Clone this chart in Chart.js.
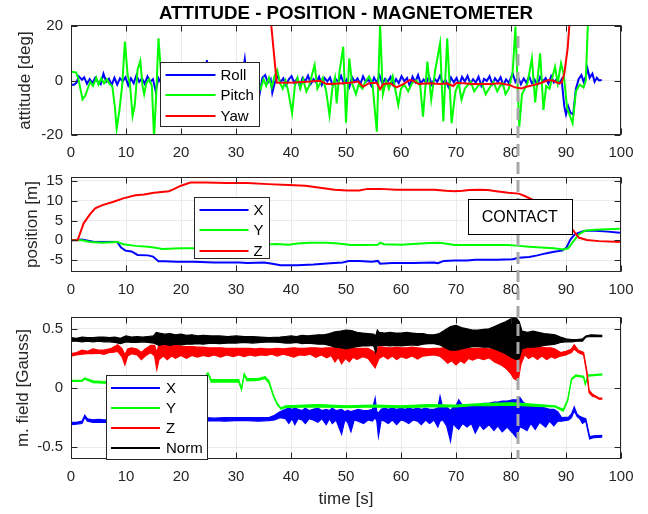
<!DOCTYPE html>
<html>
<head>
<meta charset="utf-8">
<script src="https://cdn.jsdelivr.net/npm/chart.js@4.4.1/dist/chart.umd.min.js"></script>
<style>
  html, body { margin: 0; padding: 0; background: #ffffff; }
  #wrap { position: relative; width: 648px; height: 514px; overflow: hidden; }
  #wrap canvas { position: absolute; left: 0; }
</style>
</head>
<body>
<div id="wrap">
  <canvas id="cAtt" width="648" height="160" style="top:0px"></canvas>
  <canvas id="cPos" width="648" height="140" style="top:160px"></canvas>
  <canvas id="cMag" width="648" height="214" style="top:300px"></canvas>
</div>
<script>
// ---------- tick labels ----------
const timeTicks     = [0, 10, 20, 30, 40, 50, 60, 70, 80, 90, 100];
const attitudeTicks = [-20, 0, 20];
const positionTicks = [-5, 0, 5, 10, 15];
const fieldTicks    = [-0.5, 0, 0.5];

// ---------- contact event ----------
const contactTime = 81.2;
const contactText = 'CONTACT';

// ---------- attitude [deg] ----------
const rollT = [0,0.5,1,1.4,2,2.4,2.9,3.4,3.9,4.4,4.9,5.4,5.9,6.4,6.9,7.4,7.9,8.4,8.9,9.4,9.9,10.4,10.9,11.4,11.9,12.4,12.9,13.4,13.9,14.4,14.9,15.4,15.9,16.4,16.9,17.4,17.9,18.4,18.9,19.4,19.9,20.4,20.9,21.4,21.9,22.4,22.9,23.4,23.9,24.4,24.7,25.1,25.6,26.1,26.6,27.1,27.6,28.1,28.6,29.1,29.6,30.1,30.6,31.1,31.6,32.0,32.5,33.0,33.5,34.2,34.8,35.3,35.8,36.3,36.6,37.1,37.6,38.1,38.6,39.1,39.6,40.1,40.6,41.1,41.6,42.1,42.6,43.1,43.6,44.1,44.6,45.1,45.6,46.1,46.6,47.1,47.6,48.1,48.6,49.1,49.6,50.1,50.6,51.1,51.6,52.1,52.6,53.1,53.6,54.1,54.6,55.1,55.6,56.1,56.6,57.1,57.6,58.1,58.6,59.1,59.6,60.1,60.6,61.1,61.6,62.1,62.6,63.1,63.6,64.1,64.6,65.1,65.6,66.1,66.6,67.1,67.6,68.1,68.6,69.1,69.6,70.1,70.6,71.1,71.6,72.1,72.6,73.1,73.6,74.1,74.6,75.1,75.6,76.1,76.6,77.1,77.6,78.1,78.6,79.1,79.6,80.3,80.8,81.3,81.8,82.3,82.8,83.3,83.8,84.3,84.8,85.3,85.8,86.3,86.8,87.3,87.8,88.3,88.8,89.2,89.7,90.0,90.4,90.8,91.3,91.8,92.3,92.8,93.2,93.6,93.9,94.3,94.8,95.2,95.6,96.0,96.5];
const rollV = [-1.5,-1.6,-0.8,1.5,0.3,1.2,-1.2,0.5,-1.0,1.0,-0.6,-1.4,2.5,-0.5,0.6,-1.6,1.0,-1.5,0.8,-0.3,1.2,-1.8,0.8,-1.0,2.0,-0.5,0.8,-1.2,1.5,-0.5,0.5,-4.0,0.8,-1.0,0.6,-1.2,1.0,-0.4,1.3,-1.5,0.5,-0.8,1.1,-1.3,0.4,-0.9,1.5,-0.5,0.9,-1.0,7.5,0.5,-1.2,1.0,-0.6,1.4,-1.1,0.3,-0.8,1.2,-1.4,0.6,-0.5,1.0,7.8,0.2,-1.3,1.1,-0.7,-5.9,1.0,2.0,-0.8,0.5,-4.5,-0.5,1.5,-0.6,0.8,-1.8,0.4,1.6,-0.9,0.7,-2.2,1.0,-0.3,1.8,-1.2,0.5,-0.8,1.4,-1.6,0.9,-0.4,1.1,-2.0,0.6,-0.7,1.7,-1.1,0.3,-2.4,1.2,-0.5,0.8,-1.4,1.5,-0.6,0.4,-1.9,1.0,-0.8,1.9,-1.3,0.6,-0.4,1.3,-1.7,0.5,-1.0,1.6,-0.3,0.9,-2.1,1.4,-0.6,2.0,-1.2,0.4,-0.9,1.5,-1.5,0.7,-0.5,1.8,-1.0,0.2,-2.3,1.1,-0.7,0.9,-1.6,1.3,-0.4,1.7,-1.1,0.5,-0.8,1.4,-1.9,0.6,-0.2,1.6,-1.3,0.8,-0.6,1.2,-1.8,0.4,-0.9,2.6,-0.5,1.2,-1.4,0.7,-0.8,1.5,-1.1,0.3,-1.6,1.3,-0.4,0.9,-1.2,1.6,-0.7,0.5,-1.0,0.4,-9.6,-12.5,-9.5,-11.8,-12.5,-3.0,0.5,2.0,-0.5,1.5,4.4,1.0,2.5,-0.5,1.0,0.0,0.2];

const pitchT = [0,0.9,1.3,2.1,2.6,3.0,3.5,4.0,4.6,5.0,5.5,6.0,6.5,7.0,7.5,8.0,8.3,8.8,9.3,9.8,10.3,10.7,11.2,11.6,12.1,12.6,13.0,13.3,13.7,14.2,14.7,15.1,15.5,15.9,16.4,16.9,17.5,18.2,19.0,19.8,20.6,21.4,22.2,23.0,24.0,25.0,26.0,27.0,28.0,29.0,30.0,31.0,32.0,33.0,34.0,34.5,35.0,35.5,36.0,36.5,37.0,37.5,38.0,38.5,39.0,39.5,40.2,40.7,41.2,41.7,42.2,42.8,43.3,43.8,44.3,44.8,45.3,45.8,46.4,47.0,47.5,48.0,48.3,48.8,49.5,50.0,50.6,51.1,51.8,52.3,53.0,53.5,54.2,54.8,55.6,56.2,56.7,57.3,57.8,58.5,59.5,60.0,60.6,61.3,62.0,62.8,63.5,64.0,64.8,65.5,66.2,67.1,67.7,68.4,69.2,69.9,70.5,71.0,71.6,72.0,72.7,73.3,74.0,74.7,75.4,76.0,76.8,77.5,78.0,78.5,79.0,79.6,80.3,80.8,81.5,82.0,82.5,83.0,83.8,84.4,85.3,85.9,86.4,87.0,87.5,88.0,88.5,89.1,89.6,90.2,91.2,91.8,92.5,93.2,93.6,94.0,94.3,96.5];
const pitchV = [3.2,3.0,1.0,-6.9,-5.5,-3.2,-0.5,-2.0,1.0,-1.5,0.8,-1.0,0.5,-1.2,-2.0,-10,-17.8,-11,-2,14.3,2,-1,-13,-9,4,7.2,-2,-5,-1,0.5,-2,-21,-5,15.5,2,-1,0.5,-1.5,1.0,-2.0,0.5,-3.0,1.0,-1.0,2.0,-2.0,0.0,-3.0,1.0,-1.0,2.0,-2.0,0.0,-3.0,-1.0,-3.0,0.5,-2.0,1.0,-2.5,1.5,3.8,-1.0,-3.0,0.0,-4.0,-12.0,-2.0,1.0,-3.0,0.5,-4.0,-2.0,2.0,5.7,-3.0,-1.0,1.0,-4.0,-12.7,-3.0,1.0,-8.4,3.0,12.4,-15.5,8.1,-1.0,-5.0,-1.5,-3.0,-0.5,1.5,-1.0,-18.8,20.5,-5.0,0.0,-3.0,1.5,-9.0,-3.0,-1.5,-4.0,-1.0,0.0,-2.0,-13.3,6.9,-7.0,3.5,13.6,-15.0,15.5,-15.7,-4.0,-1.0,-7.0,-3.0,-2.0,-0.5,-4.0,-2.0,-1.0,-5.0,-3.0,-0.5,-4.0,-2.0,-1.0,-5.0,-3.0,3.0,19.8,-17.0,-5.0,-3.0,-1.0,8.1,-8.0,10.0,-10.8,-2.0,-3.0,1.0,5.0,-1.0,6.3,2.0,-10.0,-15.7,-4.0,-1.5,-2.5,0.0,22.0,45.0,45.0];

const yawT = [0,36.0,37.4,40.4,43.5,45.3,46.5,47.1,49.5,50.7,52.2,53.1,54.2,55.6,56.2,56.8,58.0,59.2,60.4,61.6,62.2,63.2,65.3,67.1,68.3,69.5,70.1,73.1,76.2,78.0,79.8,80.7,81.9,82.8,84.1,85.3,86.8,87.7,88.6,89.2,89.7,90.3,90.6,91.0,96.5];
const yawV = [29,29,-0.8,-0.7,-0.4,-0.1,-1.3,-1.3,-1.0,-0.8,-0.4,-2.3,-1.0,-0.8,-3.2,-1.3,-1.0,-2.5,-1.3,0.2,-0.1,-1.3,-1.0,-1.3,-1.0,-2.0,-0.8,-1.3,-1.3,-1.0,-1.7,-2.5,-2.9,-2.3,-1.7,-1.0,0.2,-0.1,-1.0,-0.8,2.6,11.8,20.0,30.0,35.0];

// ---------- position [m] ----------
const posXT = [0,2,4.2,6.5,8.4,9.1,9.9,11,12.1,14,14.9,15.9,17,19.3,22.3,26,30.6,32.1,35.1,36.6,38.1,41.1,44.1,47.1,49.4,50.5,52.4,54.7,55.8,56.2,58.4,62.2,66,66.7,67.8,69.7,72,73.5,77.3,80.3,81.4,83.3,84.8,86.3,87.8,89.3,90.1,90.8,91.6,93.1,93.8,95.3,97.6,99.8];
const posXV = [0,0.2,-0.4,-0.4,-0.4,-1.8,-2.6,-2.8,-3.7,-3.8,-4.1,-5.3,-5.3,-5.4,-5.4,-5.6,-5.6,-5.7,-5.6,-5.9,-6.3,-6.3,-6.1,-5.8,-5.6,-5.2,-5.2,-5.4,-5.2,-5.9,-5.7,-5.7,-5.6,-5.8,-5.2,-5.1,-5.1,-4.9,-4.9,-4.8,-4.4,-4.2,-3.8,-3.3,-2.9,-2.6,-1.8,0.2,1.5,2.3,2.4,2.4,2.2,1.9];

const posYT = [0,2,3.5,5.7,8.4,9.5,11.7,14,15.1,16.6,20,23,26,29.1,32.1,35.1,37.3,39.6,41.1,43.4,46.4,48.6,50.9,53.2,55.8,56.2,56.9,60,62.2,65.2,67.1,68.6,69.7,73.5,77.3,79.5,81.4,83.3,85.5,87.8,89.5,90.4,91.2,92.3,93.4,95.3,99.8];
const posYV = [0.1,0,-0.4,-0.6,-0.4,-1.0,-1.4,-1.6,-1.8,-2.2,-2.0,-2.0,-1.9,-1.7,-1.4,-1.1,-0.9,-1.1,-0.8,-0.6,-0.6,-0.8,-1.2,-1.2,-1.1,-0.6,-1.0,-1.1,-0.9,-0.7,-0.6,-0.9,-1.2,-1.2,-1.2,-1.2,-1.4,-1.6,-1.8,-2.0,-2.3,-2.0,-0.5,1.5,2.4,2.7,2.9];

const posZT = [0,1.2,2.3,3.5,4.4,5.7,7.6,9.5,11.7,13.3,15.1,17.8,18.5,20,21.7,24.5,28.3,32.1,35.8,39.6,42.6,45.6,47.9,50.2,52.4,53.9,56.2,59.2,62.2,66,68.2,69.7,71.2,72.4,74.2,75.8,77.3,79.5,81.4,82.5,84,84.8,86,87.5,89,90.5,91.2,92.3,93.8,96,99.8];
const posZV = [0,0,4.3,6.7,8.1,8.9,9.7,10.6,11.4,11.6,12.0,12.4,12.8,13.8,14.6,14.6,14.5,14.5,14.2,14.0,13.8,13.2,12.8,12.6,12.6,13.0,13.0,12.8,12.8,12.8,12.5,12.4,12.5,12.7,12.8,12.7,12.4,12.0,11.8,11.2,10.2,10.0,8.5,7.0,5.0,3.3,2.7,0.7,0.1,-0.2,-0.4];

// ---------- magnetic field [Gauss], upper / lower envelopes ----------
const normT  = [0,1,2,3,4,5,6,7,8,9,10,11,12,13,14,15,15.5,16,17,18,19,20,21,22,23,24,25.5,27,28.5,30,31.5,33,34.5,36,38,39,40,41,42,43,44,45,46,47,48,49,50,51,52,53,54,55,55.4,55.7,56,57,58,59,60,61,62,63,64,65,66,67,68,69,70,71,72,73,74,75,76,77,78,79,80,81,81.5,82,83,84,85,86,87,88,89,90,91,92,93,93.6,94.5,96.6];
const normHi = [0.425,0.42,0.43,0.425,0.425,0.43,0.43,0.425,0.43,0.42,0.44,0.43,0.435,0.43,0.435,0.44,0.47,0.465,0.455,0.46,0.45,0.455,0.445,0.45,0.44,0.445,0.44,0.44,0.435,0.44,0.435,0.435,0.43,0.425,0.43,0.435,0.44,0.435,0.445,0.44,0.445,0.45,0.45,0.46,0.475,0.48,0.49,0.485,0.47,0.465,0.46,0.455,0.44,0.49,0.47,0.465,0.47,0.465,0.465,0.47,0.465,0.46,0.46,0.45,0.45,0.46,0.49,0.52,0.53,0.51,0.5,0.49,0.49,0.495,0.5,0.52,0.54,0.56,0.585,0.59,0.56,0.48,0.47,0.48,0.47,0.46,0.455,0.45,0.43,0.415,0.41,0.41,0.415,0.44,0.45,0.445];
const normLo = [0.395,0.395,0.39,0.395,0.39,0.395,0.39,0.39,0.385,0.375,0.39,0.385,0.385,0.39,0.385,0.38,0.37,0.36,0.37,0.36,0.37,0.365,0.37,0.37,0.375,0.37,0.38,0.375,0.38,0.38,0.385,0.38,0.385,0.39,0.385,0.38,0.38,0.385,0.375,0.38,0.375,0.37,0.37,0.36,0.345,0.34,0.33,0.34,0.35,0.355,0.355,0.36,0.3,0.36,0.36,0.36,0.355,0.36,0.355,0.36,0.365,0.36,0.37,0.375,0.375,0.365,0.34,0.32,0.32,0.33,0.34,0.35,0.35,0.345,0.345,0.33,0.31,0.29,0.26,0.24,0.25,0.33,0.345,0.345,0.35,0.36,0.365,0.37,0.385,0.39,0.39,0.395,0.395,0.43,0.435,0.435];

const magZT  = [0,1,2,3,4,5,6,7,7.5,8.5,9.3,9.8,10.3,11,12,12.8,13.5,14.5,15.2,15.6,16,16.8,17.5,18.3,19,20,21,22,23,24,25,26,27.2,28.3,29.5,30.5,31.5,32.5,33.5,34.5,35.5,36.5,37.5,38.5,39.5,40.5,41.5,42.5,43.5,44.5,45.5,46.5,47.3,48,48.6,49.2,49.9,50.6,51.3,52,53,54,55.3,56,56.8,57.6,58.4,59.2,60,61,62,63,64,65,66,67,67.8,68.5,69.2,70,70.8,71.5,72.3,73,74,75,76,77,78,79,80,80.5,81.3,81.8,82.5,83.2,84,84.8,85.6,86.5,87.3,88,89,90,91,91.5,92.2,93.2,93.8,94.2,94.8,95.5,96,96.6];
const magZHi = [0.29,0.3,0.32,0.31,0.33,0.32,0.32,0.33,0.34,0.365,0.33,0.28,0.33,0.34,0.33,0.3,0.33,0.36,0.36,0.3,0.37,0.36,0.365,0.36,0.36,0.355,0.35,0.35,0.345,0.345,0.34,0.34,0.34,0.335,0.335,0.335,0.335,0.335,0.33,0.335,0.33,0.33,0.335,0.33,0.335,0.34,0.335,0.335,0.34,0.34,0.335,0.34,0.34,0.34,0.345,0.345,0.34,0.34,0.335,0.335,0.335,0.335,0.3,0.35,0.345,0.34,0.34,0.345,0.34,0.34,0.345,0.34,0.335,0.33,0.335,0.335,0.34,0.34,0.345,0.34,0.34,0.34,0.335,0.335,0.335,0.335,0.33,0.33,0.325,0.32,0.3,0.28,0.27,0.33,0.37,0.36,0.35,0.35,0.345,0.34,0.34,0.33,0.3,0.31,0.33,0.365,0.32,0.3,0.14,-0.02,-0.05,-0.07,-0.085,-0.085];
const magZLo = [0.27,0.28,0.285,0.29,0.29,0.295,0.285,0.3,0.3,0.31,0.26,0.195,0.27,0.29,0.28,0.24,0.27,0.3,0.27,0.155,0.24,0.27,0.24,0.27,0.25,0.275,0.25,0.275,0.26,0.275,0.265,0.28,0.26,0.28,0.265,0.28,0.265,0.28,0.27,0.28,0.275,0.285,0.27,0.285,0.275,0.26,0.28,0.275,0.285,0.26,0.28,0.255,0.275,0.22,0.26,0.205,0.25,0.22,0.26,0.24,0.265,0.25,0.17,0.25,0.27,0.245,0.27,0.24,0.265,0.25,0.27,0.245,0.27,0.275,0.28,0.27,0.24,0.21,0.23,0.195,0.23,0.21,0.25,0.235,0.255,0.24,0.255,0.22,0.2,0.17,0.12,0.08,0.06,0.2,0.28,0.25,0.27,0.24,0.27,0.24,0.265,0.25,0.27,0.28,0.3,0.33,0.3,0.28,0.12,-0.04,-0.07,-0.08,-0.095,-0.095];

const magYT  = [0,2,2.5,4,6,10,15,20,24,24.9,25.5,28,30.5,31,31.5,32,34,35.3,36,36.8,37.5,38.2,39,45,50,55,60,65,70,73,76,80,82,85,88,89.5,90.3,91,91.8,93.2,93.5,94,96.6];
const magYHi = [0.065,0.065,0.085,0.06,0.055,0.06,0.06,0.06,0.07,0.13,0.07,0.07,0.07,-0.005,0.12,0.08,0.08,0.095,0.06,-0.06,-0.13,-0.17,-0.15,-0.14,-0.15,-0.145,-0.15,-0.14,-0.145,-0.135,-0.13,-0.125,-0.13,-0.14,-0.15,-0.18,-0.1,0.08,0.11,0.1,0.04,0.11,0.12];
const magYLo = [0.055,0.055,0.075,0.045,0.04,0.045,0.045,0.045,0.05,0.12,0.05,0.05,0.05,-0.015,0.11,0.06,0.065,0.08,0.04,-0.07,-0.14,-0.18,-0.165,-0.16,-0.165,-0.16,-0.165,-0.16,-0.16,-0.15,-0.15,-0.145,-0.15,-0.155,-0.16,-0.195,-0.11,0.07,0.1,0.09,0.03,0.1,0.11];

const magXT  = [0,1,2,2.5,3,4,5,6,24.5,26,28,30,32,34,36,37,38,39,39.6,40.2,40.7,41.3,42,42.6,43.3,44,44.9,45.6,46.4,47,47.5,48.2,49.2,49.8,50.3,50.9,51.5,52.2,53.2,54,54.8,55.3,55.6,55.9,56.4,57,57.7,58.4,59.2,60,60.7,61.4,62.2,63,63.7,64.5,65.2,66,66.7,67.1,67.6,68.3,69,69.5,70,70.5,71.2,72,72.8,73.5,74.3,75,76,76.9,77.6,78.4,79.3,80.3,81,81.6,82.2,82.9,83.6,84.4,85.2,86.3,87,87.8,88.5,89.2,90.5,91,91.5,92,92.5,93,93.6,94.3,95,96.6];
const magXHi = [-0.29,-0.29,-0.28,-0.23,-0.26,-0.27,-0.265,-0.27,-0.25,-0.255,-0.25,-0.25,-0.25,-0.25,-0.25,-0.23,-0.2,-0.18,-0.17,-0.18,-0.17,-0.18,-0.19,-0.17,-0.19,-0.18,-0.17,-0.19,-0.18,-0.19,-0.17,-0.19,-0.18,-0.2,-0.19,-0.2,-0.19,-0.18,-0.19,-0.19,-0.18,-0.086,-0.2,-0.21,-0.18,-0.17,-0.18,-0.17,-0.18,-0.17,-0.18,-0.17,-0.18,-0.17,-0.18,-0.17,-0.18,-0.18,-0.17,-0.07,-0.17,-0.16,-0.19,-0.16,-0.15,-0.1,-0.15,-0.15,-0.14,-0.14,-0.14,-0.13,-0.13,-0.12,-0.12,-0.11,-0.11,-0.1,-0.1,-0.08,-0.12,-0.14,-0.15,-0.16,-0.16,-0.17,-0.18,-0.18,-0.2,-0.25,-0.245,-0.22,-0.16,-0.22,-0.24,-0.25,-0.26,-0.41,-0.405,-0.4];
const magXLo = [-0.31,-0.305,-0.3,-0.25,-0.28,-0.29,-0.29,-0.29,-0.28,-0.275,-0.28,-0.275,-0.275,-0.28,-0.275,-0.27,-0.25,-0.26,-0.3,-0.26,-0.31,-0.26,-0.27,-0.3,-0.26,-0.27,-0.29,-0.26,-0.31,-0.26,-0.3,-0.27,-0.39,-0.27,-0.29,-0.37,-0.27,-0.28,-0.3,-0.27,-0.28,-0.25,-0.28,-0.41,-0.27,-0.28,-0.3,-0.27,-0.31,-0.27,-0.28,-0.3,-0.27,-0.28,-0.31,-0.27,-0.3,-0.27,-0.33,-0.28,-0.27,-0.32,-0.45,-0.3,-0.33,-0.35,-0.3,-0.33,-0.3,-0.38,-0.31,-0.35,-0.31,-0.36,-0.32,-0.37,-0.33,-0.38,-0.42,-0.33,-0.34,-0.36,-0.3,-0.35,-0.29,-0.33,-0.28,-0.32,-0.28,-0.28,-0.27,-0.25,-0.19,-0.24,-0.26,-0.3,-0.28,-0.43,-0.42,-0.415];

// ---------- styling ----------
const FONT  = "'Liberation Sans', Arial, Helvetica, sans-serif";
const INK   = '#262626';
const GRID  = '#ebebeb';
const BLUE  = '#0000ff';
const GREEN = '#00ff00';
const RED   = '#ff0000';
const BLACK = '#000000';

Chart.defaults.font.family = FONT;
Chart.defaults.color = INK;

function pts(t, v) { return t.map((x, i) => ({ x: x, y: v[i] })); }

function trace(label, t, v, color, order) {
  return { label, inKey: true, data: pts(t, v), borderColor: color, backgroundColor: color,
           borderWidth: 2, pointRadius: 0, tension: 0, fill: false, order };
}

// A noisy signal shown as the band between its upper and lower envelope
function addBand(list, label, t, hi, lo, color, order) {
  const loIndex = list.length + 1;
  list.push({ label, inKey: true, data: pts(t, hi), borderColor: color, backgroundColor: color,
              borderWidth: 1.2, pointRadius: 0, tension: 0, fill: loIndex, order });
  list.push({ label: label + ' low', inKey: false, data: pts(t, lo), borderColor: color,
              backgroundColor: color, borderWidth: 1.2, pointRadius: 0, tension: 0, fill: false, order });
}

// Box, inward ticks, contact marker, note and key drawn over the data
const decor = {
  id: 'decor',
  afterDatasetsDraw(chart, args, o) {
    const ctx = chart.ctx, a = chart.chartArea;
    const xs = chart.scales.x, ys = chart.scales.y;
    const L = Math.floor(a.left) + 0.5, R = Math.floor(a.right) - 0.5;
    const T = Math.floor(a.top) + 0.5, B = Math.floor(a.bottom) - 0.5;
    ctx.save();

    // axes box with ticks pointing inward on all four sides
    ctx.strokeStyle = INK;
    ctx.lineWidth = 1;
    ctx.setLineDash([]);
    ctx.beginPath();
    xs.ticks.forEach(tk => {
      const px = Math.round(xs.getPixelForValue(tk.value)) + 0.5;
      ctx.moveTo(px, B); ctx.lineTo(px, B - 6);
      ctx.moveTo(px, T); ctx.lineTo(px, T + 6);
    });
    ys.ticks.forEach(tk => {
      const py = Math.round(ys.getPixelForValue(tk.value)) + 0.5;
      ctx.moveTo(L, py); ctx.lineTo(L + 6, py);
      ctx.moveTo(R, py); ctx.lineTo(R - 6, py);
    });
    ctx.stroke();
    ctx.strokeRect(L, T, R - L, B - T);

    // dashed contact marker, continuous across the stacked panels
    const cx = Math.round(xs.getPixelForValue(contactTime));
    const y0 = (o.markFrom !== null) ? ys.getPixelForValue(o.markFrom) : 0;
    const y1 = o.markToArea ? a.bottom : chart.height;
    ctx.strokeStyle = '#a8a8a8';
    ctx.lineWidth = 3;
    ctx.setLineDash([12, 6]);
    ctx.lineDashOffset = o.pageTop + y0;
    ctx.beginPath();
    ctx.moveTo(cx, y0); ctx.lineTo(cx, y1);
    ctx.stroke();
    ctx.setLineDash([]);

    // text note
    if (o.note) {
      const nx = xs.getPixelForValue(o.note.t), ny = ys.getPixelForValue(o.note.v);
      const w = o.note.w, h = o.note.h;
      const bx = Math.round(nx - w / 2) + 0.5, by = Math.round(ny - h / 2) + 0.5;
      ctx.fillStyle = '#ffffff';
      ctx.fillRect(bx, by, w, h);
      ctx.strokeStyle = BLACK; ctx.lineWidth = 1;
      ctx.strokeRect(bx, by, w, h);
      ctx.fillStyle = BLACK;
      ctx.font = '16px ' + FONT;
      ctx.textAlign = 'center'; ctx.textBaseline = 'middle';
      ctx.fillText(o.note.text, nx, ny + 1);
    }

    // key
    if (o.key) {
      const k = o.key;
      const kx = Math.round(a.left + k.left) + 0.5, ky = Math.round(a.top + k.top) + 0.5;
      ctx.fillStyle = '#ffffff';
      ctx.fillRect(kx, ky, k.w, k.h);
      ctx.strokeStyle = INK; ctx.lineWidth = 1;
      ctx.strokeRect(kx, ky, k.w, k.h);
      ctx.font = '15px ' + FONT;
      ctx.textAlign = 'left'; ctx.textBaseline = 'middle';
      chart.data.datasets.filter(d => d.inKey).forEach((d, i) => {
        const cy = Math.round(ky + k.first + i * k.step);
        ctx.strokeStyle = d.borderColor; ctx.lineWidth = 2;
        ctx.beginPath();
        ctx.moveTo(kx + k.line0, cy); ctx.lineTo(kx + k.line1, cy);
        ctx.stroke();
        ctx.fillStyle = BLACK;
        ctx.fillText(d.label, kx + k.text, cy + 1);
      });
    }
    ctx.restore();
  }
};

function panel(id, o) {
  return new Chart(document.getElementById(id), {
    type: 'line',
    data: { datasets: o.datasets },
    plugins: [decor],
    options: {
      responsive: false,
      animation: false,
      devicePixelRatio: 1,
      events: [],
      layout: { padding: { left: o.padLeft, right: 27, top: o.padTop, bottom: o.padBottom } },
      plugins: {
        legend: { display: false },
        tooltip: { enabled: false },
        title: o.title ? {
          display: true, text: o.title, fullSize: false, color: BLACK,
          font: { family: FONT, size: 18.7, weight: 'bold' },
          padding: { top: 3, bottom: 0.56 }
        } : { display: false },
        decor: o.decor
      },
      scales: {
        x: {
          type: 'linear', min: 0, max: 100,
          afterBuildTicks: s => { s.ticks = timeTicks.map(v => ({ value: v })); },
          afterFit: s => { s.height = o.xHeight; },
          ticks: { color: INK, font: { family: FONT, size: 15 }, padding: 9, maxRotation: 0, autoSkip: false,
                   callback: v => String(v) },
          grid: { color: GRID, lineWidth: 1, drawTicks: false },
          border: { display: false },
          title: o.xTitle ? { display: true, text: o.xTitle, color: INK, font: { family: FONT, size: 17 },
                              padding: 0 } : { display: false }
        },
        y: {
          type: 'linear', min: o.yMin, max: o.yMax,
          afterBuildTicks: s => { s.ticks = o.yTicks.map(v => ({ value: v })); },
          afterFit: s => { s.width = 71 - o.padLeft; },
          ticks: { color: INK, font: { family: FONT, size: 15 }, padding: 8, callback: v => String(v) },
          grid: { color: GRID, lineWidth: 1, drawTicks: false },
          border: { display: false },
          title: { display: true, text: o.yTitle, color: INK, font: { family: FONT, size: 17 }, padding: 0 }
        }
      }
    }
  });
}

// ---------- attitude ----------
panel('cAtt', {
  title: 'ATTITUDE - POSITION - MAGNETOMETER',
  padLeft: 15, padTop: 0, padBottom: 0, xHeight: 25,
  yMin: -20, yMax: 20, yTicks: attitudeTicks, yTitle: 'attitude [deg]',
  datasets: [
    trace('Roll',  rollT,  rollV,  BLUE,  2),
    trace('Pitch', pitchT, pitchV, GREEN, 1),
    trace('Yaw',   yawT,   yawV,   RED,   0)
  ],
  decor: { pageTop: 0, markFrom: 17.5, markToArea: false,
           key: { left: 89, top: 36, w: 99, h: 64, first: 12, step: 20.5, line0: 5, line1: 55, text: 60 } }
});

// ---------- position ----------
panel('cPos', {
  padLeft: 22, padTop: 11, padBottom: 0, xHeight: 28,
  yMin: -8, yMax: 16, yTicks: positionTicks, yTitle: 'position [m]',
  datasets: [
    trace('X', posXT, posXV, BLUE,  2),
    trace('Y', posYT, posYV, GREEN, 1),
    trace('Z', posZT, posZV, RED,   0)
  ],
  decor: { pageTop: 160, markFrom: null, markToArea: false,
           note: { t: 81.6, v: 5.9, w: 104, h: 35, text: contactText },
           key: { left: 123, top: 20, w: 75, h: 61, first: 12, step: 20.5, line0: 5, line1: 54, text: 59 } }
});

// ---------- magnetometer ----------
const magSets = [];
addBand(magSets, 'X',    magXT, magXHi, magXLo, BLUE,  3);
addBand(magSets, 'Y',    magYT, magYHi, magYLo, GREEN, 2);
addBand(magSets, 'Z',    magZT, magZHi, magZLo, RED,   1);
addBand(magSets, 'Norm', normT, normHi, normLo, BLACK, 0);

panel('cMag', {
  padLeft: 13, padTop: 10, padBottom: 4, xHeight: 51, xTitle: 'time [s]',
  yMin: -0.6, yMax: 0.6, yTicks: fieldTicks, yTitle: 'm. field [Gauss]',
  datasets: magSets,
  decor: { pageTop: 300, markFrom: null, markToArea: true,
           key: { left: 34.5, top: 58, w: 101, h: 84, first: 12, step: 20, line0: 4.5, line1: 53.5, text: 59.5 } }
});
</script>
</body>
</html>
